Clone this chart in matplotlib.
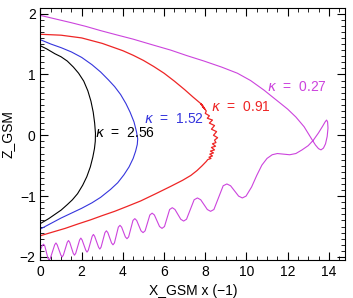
import numpy as np
import matplotlib
matplotlib.use("Agg")
import matplotlib.pyplot as plt
from matplotlib.ticker import MultipleLocator

plt.rcParams['font.family'] = ['Liberation Sans', 'DejaVu Sans']

# kappa = 2.56 (black)
x_k256 = [0.0, 0.3, 0.7, 1.0, 1.3, 1.6, 1.85, 2.1, 2.3, 2.45, 2.56, 2.63, 2.67, 2.66, 2.62,
          2.54, 2.42, 2.25, 2.05, 1.8, 1.55, 1.3, 1.0, 0.7, 0.4, 0.0]
z_k256 = [1.47, 1.42, 1.34, 1.29, 1.22, 1.12, 1.02, 0.89, 0.73, 0.56, 0.38, 0.20, 0.03, -0.10, -0.22,
          -0.36, -0.52, -0.68, -0.82, -0.96, -1.06, -1.14, -1.23, -1.30, -1.37, -1.45]

# kappa = 1.52 (blue)
x_k152 = [0.0, 0.5, 1.0, 1.5, 2.0, 2.5, 2.92, 3.3, 3.6, 3.89, 4.15, 4.35, 4.54, 4.66, 4.72,
          4.70, 4.62, 4.5, 4.3, 4.05, 3.75, 3.4, 2.92, 2.5, 2.0, 1.5, 1.0, 0.5, 0.0]
z_k152 = [1.57, 1.50, 1.44, 1.37, 1.28, 1.16, 1.04, 0.91, 0.80, 0.67, 0.52, 0.38, 0.22, 0.06, -0.06,
          -0.15, -0.26, -0.38, -0.52, -0.65, -0.78, -0.89, -1.02, -1.11, -1.20, -1.28, -1.36, -1.45, -1.54]

# kappa = 0.91 (red), tangled near the nose
x_k091 = [0.0, 1.0, 2.0, 3.0, 4.0, 4.5, 5.0, 5.5, 6.0, 6.5, 7.0, 7.4, 7.75,
          7.9, 7.78, 7.95, 7.82, 7.98, 7.88, 8.05,
          8.0, 8.2, 8.1, 8.35, 8.2, 8.45, 8.3, 8.55, 8.4, 8.6, 8.45,
          8.52, 8.35, 8.5, 8.3, 8.45, 8.25, 8.4, 8.22, 8.35, 8.18, 8.28, 8.12, 8.05,
          7.85, 7.6, 7.3, 6.9, 6.32, 5.6, 4.86, 4.2, 3.6, 3.0, 2.43, 1.8, 1.2, 0.6, 0.0]
z_k091 = [1.66, 1.645, 1.60, 1.51, 1.39, 1.315, 1.23, 1.13, 1.02, 0.89, 0.75, 0.63, 0.53,
          0.47, 0.52, 0.45, 0.50, 0.43, 0.47, 0.40,
          0.36, 0.32, 0.28, 0.25, 0.20, 0.16, 0.10, 0.06, 0.00, -0.04, -0.08,
          -0.12, -0.14, -0.18, -0.20, -0.24, -0.26, -0.29, -0.31, -0.34, -0.36, -0.38, -0.40, -0.43,
          -0.50, -0.58, -0.66, -0.74, -0.84, -0.96, -1.08, -1.17, -1.25, -1.32, -1.39, -1.46, -1.53, -1.59, -1.65]

# kappa = 0.27 (magenta): wavy lower branch, loop at the tail, upper branch
x_k027 = [0.00,
          0.09, 0.15, 0.21, 0.36, 0.42, 0.48, 0.69, 0.75, 0.81, 0.99, 1.05, 1.11,
          1.30, 1.36, 1.42, 1.59, 1.65, 1.71, 1.90, 1.96, 2.02, 2.20, 2.26, 2.32,
          2.51, 2.57, 2.63, 2.82, 2.88, 2.94, 3.13, 3.20, 3.27, 3.45, 3.52, 3.59,
          3.78, 3.86, 3.94, 4.12, 4.20, 4.28, 4.49, 4.58, 4.67, 4.88, 4.98, 5.08,
          5.31, 5.42, 5.53, 5.78, 5.90, 6.02, 6.27, 6.40, 6.53, 6.81, 6.95, 7.09,
          7.46, 7.62, 7.78, 8.10, 8.26, 8.42, 8.87, 9.05, 9.23, 9.62, 9.80, 9.98,
          10.25, 10.5, 10.75, 11.0, 11.25, 11.5, 11.8, 12.1, 12.4, 12.7, 13.0, 13.25,
          13.5, 13.7, 13.82, 13.89, 13.94, 13.96, 13.92, 13.84, 13.74, 13.62, 13.5, 13.35,
          13.2, 13.0, 12.8, 12.4, 12.0, 11.67, 11.3, 10.86, 10.2, 9.56, 8.8,
          7.94, 7.1, 6.32, 5.4, 4.5, 3.7, 2.92, 2.2, 1.5, 0.75, 0.0]
z_k027 = [-1.88,
          -1.81, -1.79, -1.82, -2.02, -2.05, -2.02, -1.80, -1.77, -1.80, -1.97, -2.00, -1.97,
          -1.76, -1.73, -1.76, -1.94, -1.97, -1.94, -1.72, -1.69, -1.72, -1.89, -1.92, -1.89,
          -1.66, -1.63, -1.66, -1.84, -1.87, -1.84, -1.60, -1.57, -1.60, -1.77, -1.80, -1.77,
          -1.51, -1.48, -1.51, -1.67, -1.70, -1.67, -1.40, -1.37, -1.40, -1.57, -1.60, -1.57,
          -1.31, -1.28, -1.31, -1.50, -1.53, -1.50, -1.22, -1.19, -1.22, -1.38, -1.41, -1.38,
          -1.06, -1.03, -1.06, -1.22, -1.25, -1.22, -0.83, -0.80, -0.83, -1.00, -1.03, -1.00,
          -0.85, -0.66, -0.49, -0.38, -0.32, -0.30, -0.31, -0.32, -0.30, -0.24, -0.17, -0.08,
          0.04, 0.15, 0.22, 0.25, 0.22, 0.12, -0.02, -0.14, -0.21, -0.24, -0.22, -0.16,
          -0.08, 0.03, 0.14, 0.30, 0.43, 0.52, 0.62, 0.74, 0.90, 1.02, 1.12,
          1.22, 1.31, 1.40, 1.49, 1.58, 1.65, 1.72, 1.79, 1.85, 1.91, 1.97]

blue = '#3535dd'
red = '#ee2525'
magenta = '#cc44dd'

fig = plt.figure(figsize=(3.53, 2.98), dpi=100)
ax = fig.add_axes([0.1147, 0.1275, 0.8635, 0.8473])

ax.plot(x_k256, z_k256, color='black', lw=0.8)
ax.plot(x_k152, z_k152, color=blue, lw=0.8)
ax.plot(x_k091, z_k091, color=red, lw=0.9)
ax.plot(x_k027, z_k027, color=magenta, lw=0.8)

ax.text(2.67, 0.04, r'$\kappa$  =  2.56', color='black', fontsize=10, va='center')
ax.text(5.02, 0.27, r'$\kappa$  =  1.52', color=blue, fontsize=10, va='center')
ax.text(8.26, 0.46, r'$\kappa$  =  0.91', color=red, fontsize=10, va='center')
ax.text(11.02, 0.80, r'$\kappa$  =  0.27', color=magenta, fontsize=10, va='center')

ax.set_xlim(0, 14.8)
ax.set_ylim(-2.05, 2.1)
ax.xaxis.set_major_locator(MultipleLocator(2))
ax.xaxis.set_minor_locator(MultipleLocator(0.5))
ax.yaxis.set_major_locator(MultipleLocator(1))
ax.yaxis.set_minor_locator(MultipleLocator(0.1))
ax.tick_params(which='both', direction='in', top=True, right=True, labelsize=10)
ax.tick_params(which='major', length=6)
ax.tick_params(which='minor', length=3)
ax.set_xticks([0, 2, 4, 6, 8, 10, 12, 14])
ax.set_xticklabels(['0', '2', '4', '6', '8', '10', '12', '14'])
ax.set_yticks([-2, -1, 0, 1, 2])
ax.set_yticklabels(['\u22122', '\u22121', '0', '1', '2'])

ax.set_xlabel('X_GSM x (\u22121)', fontsize=10, labelpad=4)
ax.set_ylabel('Z_GSM', fontsize=10, labelpad=4)

fig.savefig('out.png', dpi=100)
